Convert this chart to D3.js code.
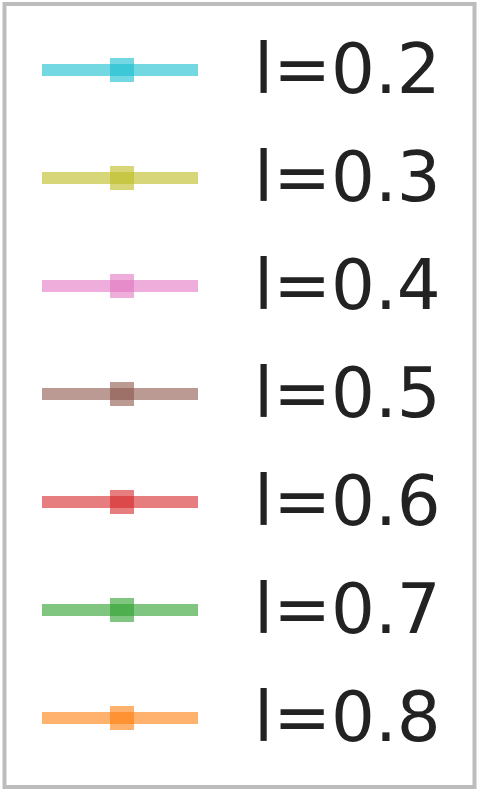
<!DOCTYPE html>
<html>
<head>
<meta charset="utf-8">
<script src="https://cdn.jsdelivr.net/npm/d3@7"></script>
<style>
  body { margin: 0; background: #fff; }
</style>
</head>
<body>
<div id="chart"></div>
<script>
var labels = ["l=0.2", "l=0.3", "l=0.4", "l=0.5", "l=0.6", "l=0.7", "l=0.8"];
var colors = ["#17becf", "#bcbd22", "#e377c2", "#8c564b", "#d62728", "#2ca02c", "#ff7f0e"];

var w = 479;
var h = 793;

var svg = d3.select("#chart")
            .append("svg")
            .attr("width", w)
            .attr("height", h);

// legend frame
svg.append("rect")
   .attr("x", 4.5)
   .attr("y", 4)
   .attr("width", 470)
   .attr("height", 783)
   .attr("fill", "#fff")
   .attr("stroke", "#bdbdbd")
   .attr("stroke-width", 4);

var y = d3.scalePoint()
          .domain(labels)
          .range([70, 718]);

var rows = svg.selectAll("g.entry")
              .data(labels)
              .enter()
              .append("g")
              .attr("class", "entry")
              .attr("transform", function (d) { return "translate(0," + y(d) + ")"; });

rows.append("line")
    .attr("x1", 42)
    .attr("x2", 198)
    .attr("y1", 0)
    .attr("y2", 0)
    .attr("stroke", function (d, i) { return colors[i]; })
    .attr("stroke-width", 12)
    .attr("stroke-opacity", 0.6);

rows.append("rect")
    .attr("x", 110)
    .attr("y", -12)
    .attr("width", 24)
    .attr("height", 24)
    .attr("fill", function (d, i) { return colors[i]; })
    .attr("fill-opacity", 0.6);

rows.append("text")
    .attr("x", 254)
    .attr("y", 23)
    .attr("font-family", "DejaVu Sans")
    .attr("font-size", 69)
    .attr("fill", "#222")
    .text(function (d) { return d; });
</script>
</body>
</html>
